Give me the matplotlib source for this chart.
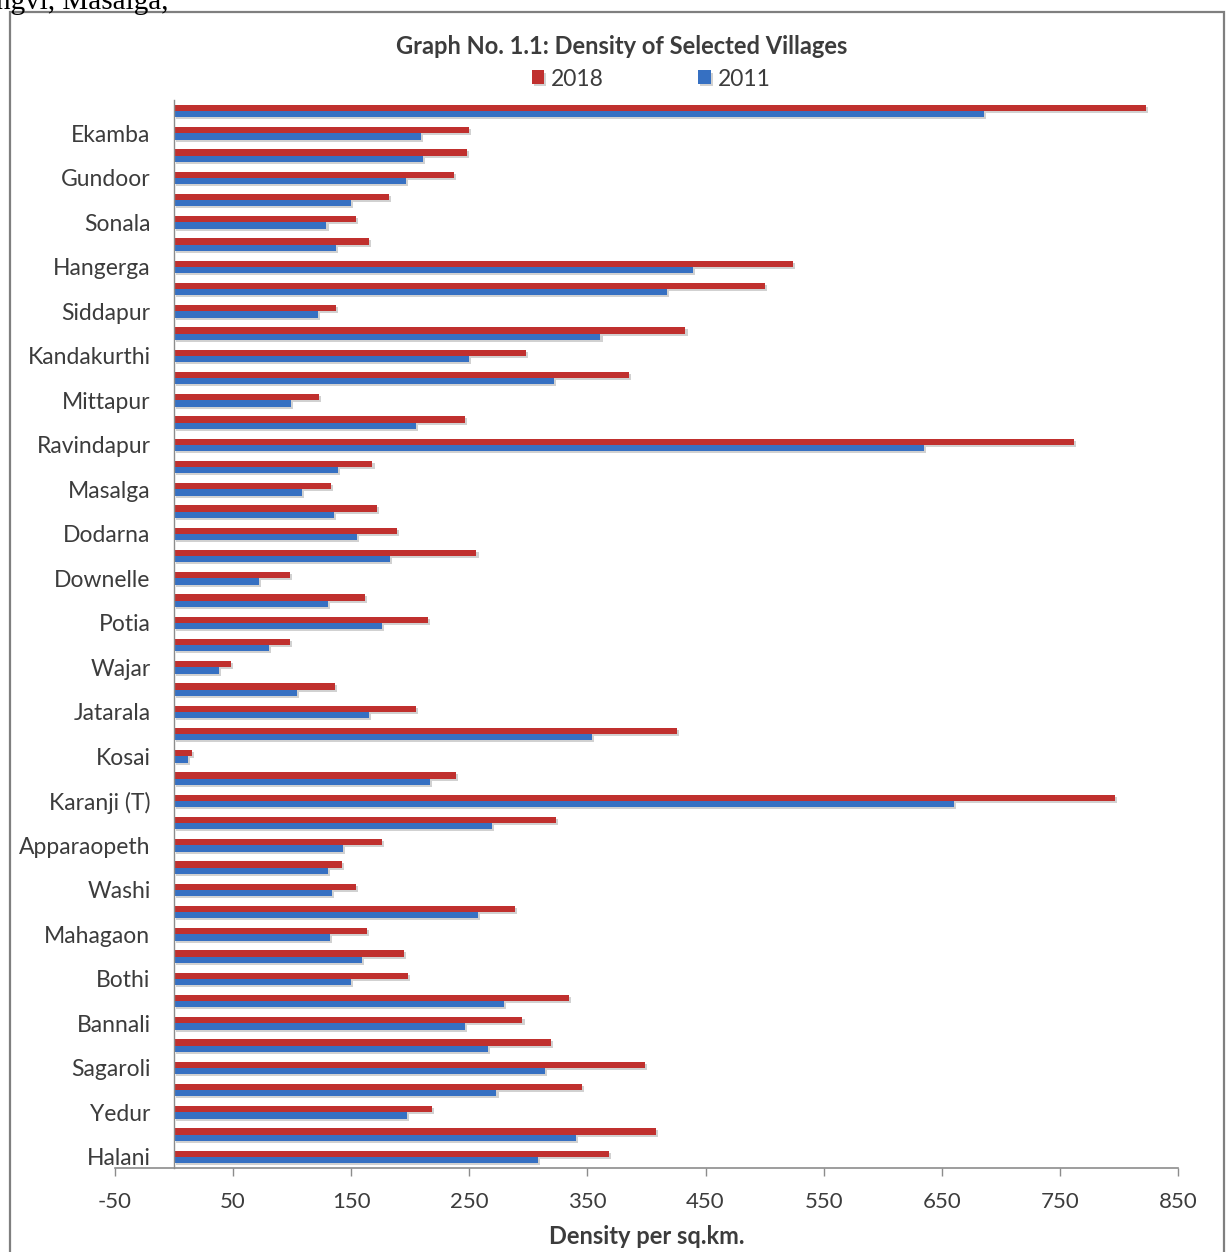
import numpy as np
import matplotlib
matplotlib.use("Agg")
import matplotlib.pyplot as plt
from matplotlib.patches import Rectangle
import matplotlib.patheffects as pe

plt.rcParams['font.family'] = ['Lato', 'DejaVu Sans']

###############################################################################
# data, listed top to bottom
# (only every other village name is printed on the chart)

villages = ["", "Ekamba", "", "Gundoor", "", "Sonala", "", "Hangerga",
            "", "Siddapur", "", "Kandakurthi", "", "Mittapur", "", "Ravindapur",
            "", "Masalga", "", "Dodarna", "", "Downelle", "", "Potia",
            "", "Wajar", "", "Jatarala", "", "Kosai", "", "Karanji (T)",
            "", "Apparaopeth", "", "Washi", "", "Mahagaon", "", "Bothi",
            "", "Bannali", "", "Sagaroli", "", "Yedur", "", "Halani"]

dens_2018 = [823, 250, 248, 237, 182, 154, 165, 524,
             500, 137, 433, 298, 385, 123, 246, 762,
             168, 133, 172, 189, 256, 98, 162, 215,
             98, 48, 136, 205, 426, 15, 239, 797,
             323, 176, 142, 154, 289, 163, 195, 198,
             334, 295, 319, 399, 345, 218, 408, 368]

dens_2011 = [686, 209, 211, 196, 150, 129, 137, 439,
             417, 122, 361, 250, 322, 99, 205, 635,
             139, 108, 135, 155, 183, 72, 130, 176,
             80, 38, 104, 165, 354, 12, 217, 660,
             269, 143, 130, 134, 257, 132, 159, 150,
             279, 246, 266, 314, 273, 197, 340, 308]

xticks = list(range(-50, 851, 100))

red = '#C0302E'
blue = '#3670C2'
txt = '#3c3c3c'

###############################################################################
# plot

fig = plt.figure(figsize=(12.27, 12.52), dpi=100)
ax = fig.add_axes([115/1227, 1 - 1168/1252, (1178 - 115)/1227, (1168 - 100)/1252])

n = len(villages)
ypos = np.arange(n)[::-1]   # first village on top

shadow = [pe.SimplePatchShadow(offset=(1.5, -1.5), shadow_rgbFace='#9a9a9a', alpha=0.45), pe.Normal()]
b18 = ax.barh(ypos + 0.14, dens_2018, height=0.28, color=red, label='2018')
b11 = ax.barh(ypos - 0.14, dens_2011, height=0.28, color=blue, label='2011')
for b in list(b18) + list(b11):
    b.set_path_effects(shadow)

ax.set_xlim(-50, 850)
ax.set_ylim(-0.5, n - 0.5)
ax.set_xticks(xticks)
ax.set_xticklabels([str(t) for t in xticks])

# only the named villages get a label
lab_idx = [i for i, v in enumerate(villages) if v]
ax.set_yticks(ypos[lab_idx])
ax.set_yticklabels([villages[i] for i in lab_idx])

for s in ['top', 'right']:
    ax.spines[s].set_visible(False)
ax.spines['left'].set_position(('data', 0))
ax.spines['left'].set_color('#8c8c8c')
ax.spines['bottom'].set_color('#8c8c8c')
ax.spines['left'].set_linewidth(1.0)
ax.spines['bottom'].set_linewidth(1.2)

ax.tick_params(axis='y', length=0, pad=17, labelsize=16.5, labelcolor=txt)
ax.tick_params(axis='x', direction='out', length=6, width=1, color='#8c8c8c',
               pad=11, labelsize=16, labelcolor=txt)

ax.set_xlabel('Density per sq.km.', fontsize=17, fontweight='bold', color=txt, labelpad=10)

fig.text(622/1227, 1 - 47/1252, 'Graph No. 1.1: Density of Selected Villages',
         ha='center', va='center', fontsize=17, fontweight='bold', color=txt)

fig.legend(handles=[b18, b11], loc='center', bbox_to_anchor=(651/1227, 1 - 79/1252),
           ncol=2, frameon=False, fontsize=16.5, handlelength=0.55, handleheight=0.55,
           handletextpad=0.3, columnspacing=4.1, labelcolor=txt)

# chart frame (bottom edge runs off the page) and the clipped line of page text above it
fig.patches.append(Rectangle((10/1227, -4/1252), 1214/1227, 1244/1252,
                             transform=fig.transFigure, fill=False,
                             edgecolor='#7f7f7f', linewidth=1.6))
fig.text(-4/1227, 1 - 9/1252, 'ngvi, Masalga,', ha='left', va='baseline',
         fontsize=21, family='Liberation Serif', color='black')

plt.savefig('out.png', dpi=100)
